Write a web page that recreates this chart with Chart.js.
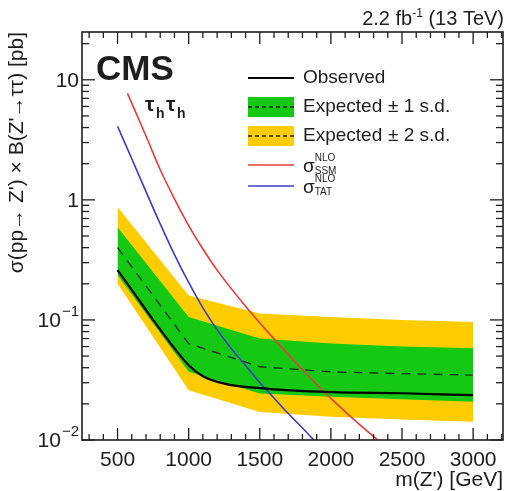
<!DOCTYPE html>
<html>
<head>
<meta charset="utf-8">
<script src="https://cdn.jsdelivr.net/npm/chart.js@4.4.1/dist/chart.umd.min.js"></script>
<style>
  html, body { margin: 0; padding: 0; background: #fff; }
  #zprime { display: block; }
</style>
</head>
<body>
<canvas id="zprime" width="507" height="491"></canvas>
<script>
///////////////////////////////// DATA : Z' -> tau tau limits

// mass points of the expected limit and its bands (GeV)
const massPoints = [500, 1000, 1500, 2000, 2500, 3000];
const expectedLimit = [0.40, 0.0635, 0.0407, 0.037, 0.0357, 0.0347];
const band1Up = [0.59, 0.106, 0.070, 0.0635, 0.060, 0.058];
const band1Down = [0.235, 0.037, 0.0244, 0.0229, 0.0218, 0.0208];
const band2Up = [0.87, 0.16, 0.113, 0.106, 0.100, 0.096];
const band2Down = [0.20, 0.026, 0.0171, 0.0156, 0.0148, 0.0142];

// observed limit
const obsMass = [500, 600, 750, 900, 1000, 1100, 1250, 1500, 2000, 2500, 3000];
const obsLimit = [0.26, 0.178, 0.10, 0.058, 0.042, 0.034, 0.0295, 0.027, 0.025, 0.0245, 0.0236];

// theory cross sections
const ssmMass = [570, 700, 800, 900, 1000, 1100, 1200, 1400, 1600, 1800, 2000, 2200, 2330];
const ssmXsec = [7.7, 3.4, 1.78, 1.02, 0.61, 0.39, 0.26, 0.13, 0.0695, 0.0385, 0.0222, 0.0135, 0.010];
const tatMass = [500, 600, 700, 800, 900, 1000, 1100, 1200, 1300, 1400, 1500, 1600, 1700, 1800, 1880];
const tatXsec = [4.1, 2.2, 1.17, 0.63, 0.35, 0.205, 0.126, 0.083, 0.0575, 0.0417, 0.030, 0.0224, 0.0166, 0.0126, 0.010];

// axes
const xTickValues = [500, 1000, 1500, 2000, 2500, 3000];
const yTickValues = [0.01, 0.1, 1, 10];
const yTickLabels = [['10', '\u22122'], ['10', '\u22121'], ['1', ''], ['10', '']];

const green = '#14c814';
const yellow = '#ffcc00';
const red = '#e63c3c';
const blue = '#3c3cc8';
const ink = '#1e1e1e';
const font = '"Liberation Sans", Arial, sans-serif';

function pts(xs, ys) {
    return xs.map((x, i) => ({ x: x, y: ys[i] }));
}

///////////////////////////////// FRAME, TICKS, LABELS, LEGEND

function seg(ctx, x1, y1, x2, y2) {
    ctx.beginPath();
    ctx.moveTo(x1, y1);
    ctx.lineTo(x2, y2);
    ctx.stroke();
}

// sigma with NLO on top and model name below
function sigmaLabel(ctx, x, y, model) {
    ctx.font = '19px ' + font;
    ctx.fillText('\u03c3', x, y + 2);
    const w = ctx.measureText('\u03c3').width;
    ctx.font = '10px ' + font;
    ctx.fillText('NLO', x + w, y - 7);
    ctx.fillText(model, x + w, y + 6);
}

const decor = {
    id: 'decor',
    afterDraw(chart) {
        const ctx = chart.ctx;
        const a = chart.chartArea;
        const xs = chart.scales.x;
        const ys = chart.scales.y;
        ctx.save();

        // frame
        ctx.strokeStyle = ink;
        ctx.lineWidth = 1.6;
        ctx.strokeRect(a.left, a.top, a.right - a.left, a.bottom - a.top);

        // inward ticks on all four sides
        ctx.lineWidth = 1.3;
        for (let m = 300; m <= xs.max; m += 100) {
            const px = xs.getPixelForValue(m);
            const len = m % 500 === 0 ? 12 : 6;
            seg(ctx, px, a.bottom, px, a.bottom - len);
            seg(ctx, px, a.top, px, a.top + len);
        }
        for (let d = -2; d <= 1; d++) {
            for (let k = 1; k <= 9; k++) {
                const v = k * Math.pow(10, d);
                if (v < ys.min || v > ys.max) continue;
                const py = ys.getPixelForValue(v);
                const len = k === 1 ? 13 : 7;
                seg(ctx, a.left, py, a.left + len, py);
                seg(ctx, a.right, py, a.right - len, py);
            }
        }

        // y tick labels 10^n
        ctx.fillStyle = ink;
        ctx.textBaseline = 'middle';
        yTickValues.forEach((v, i) => {
            const py = ys.getPixelForValue(v);
            const base = yTickLabels[i][0];
            const sup = yTickLabels[i][1];
            ctx.font = '15px ' + font;
            const sw = sup ? ctx.measureText(sup).width + 1 : 0;
            ctx.font = '21px ' + font;
            const bw = ctx.measureText(base).width;
            const x0 = a.left - 3 - sw - bw;
            ctx.fillText(base, x0, py + 1);
            if (sup) {
                ctx.font = '15px ' + font;
                ctx.fillText(sup, x0 + bw + 1, py - 8);
            }
        });

        // luminosity label
        ctx.textBaseline = 'alphabetic';
        ctx.font = '20px ' + font;
        const tail = ' (13 TeV)';
        const tailW = ctx.measureText(tail).width;
        ctx.font = '12px ' + font;
        const supW = ctx.measureText('-1').width;
        ctx.font = '20px ' + font;
        const headW = ctx.measureText('2.2 fb').width;
        let lx = 504 - tailW - supW - headW;
        ctx.fillText('2.2 fb', lx, 25);
        ctx.font = '12px ' + font;
        ctx.fillText('-1', lx + headW, 17);
        ctx.font = '20px ' + font;
        ctx.fillText(tail, lx + headW + supW, 25);

        // CMS and channel
        ctx.font = 'bold 35px ' + font;
        ctx.fillText('CMS', 96, 80);
        ctx.font = 'bold 21px ' + font;
        ctx.fillText('\u03c4', 145, 111);
        ctx.font = 'bold 14px ' + font;
        ctx.fillText('h', 156, 118);
        ctx.font = 'bold 21px ' + font;
        ctx.fillText('\u03c4', 166, 111);
        ctx.font = 'bold 14px ' + font;
        ctx.fillText('h', 177, 118);

        // legend
        const lx0 = 248, lx1 = 294, tx = 303;
        ctx.textBaseline = 'middle';
        ctx.lineWidth = 2;
        ctx.strokeStyle = '#000';
        seg(ctx, lx0, 78, lx1, 78);
        ctx.font = '19px ' + font;
        ctx.fillText('Observed', tx, 78);

        [[green, 107, '1'], [yellow, 136, '2']].forEach(([col, cy, n]) => {
            ctx.fillStyle = col;
            ctx.fillRect(lx0, cy - 10, lx1 - lx0, 20);
            ctx.strokeStyle = '#222';
            ctx.lineWidth = 1.3;
            ctx.setLineDash([4, 3]);
            seg(ctx, lx0, cy, lx1, cy);
            ctx.setLineDash([]);
            ctx.fillStyle = ink;
            ctx.font = '19px ' + font;
            ctx.fillText('Expected', tx, cy);
            ctx.fillText('\u00b1 ' + n + ' s.d.', 388, cy);
        });

        [[red, 165, 'SSM'], [blue, 186, 'TAT']].forEach(([col, cy, model]) => {
            ctx.strokeStyle = col;
            ctx.lineWidth = 1.6;
            seg(ctx, lx0, cy, lx1, cy);
            ctx.fillStyle = ink;
            sigmaLabel(ctx, tx, cy, model);
        });

        ctx.restore();
    }
};

///////////////////////////////// GRAPH

const lineBase = { fill: false, pointRadius: 0, pointHoverRadius: 0 };

new Chart(document.getElementById('zprime'), {
    type: 'line',
    data: {
        datasets: [
            Object.assign({}, lineBase, {
                label: 'Observed',
                data: pts(obsMass, obsLimit),
                borderColor: '#000',
                borderWidth: 2.2,
                cubicInterpolationMode: 'monotone'
            }),
            Object.assign({}, lineBase, {
                label: 'SSM',
                data: pts(ssmMass, ssmXsec),
                borderColor: red,
                borderWidth: 1.6,
                cubicInterpolationMode: 'monotone'
            }),
            Object.assign({}, lineBase, {
                label: 'TAT',
                data: pts(tatMass, tatXsec),
                borderColor: blue,
                borderWidth: 1.6,
                cubicInterpolationMode: 'monotone'
            }),
            Object.assign({}, lineBase, {
                label: 'Expected',
                data: pts(massPoints, expectedLimit),
                borderColor: '#1a3a1a',
                borderWidth: 1.4,
                borderDash: [9, 7]
            }),
            Object.assign({}, lineBase, {
                label: '1 s.d. up',
                data: pts(massPoints, band1Up),
                borderWidth: 0,
                borderColor: green,
                backgroundColor: green,
                fill: { target: 5 }
            }),
            Object.assign({}, lineBase, {
                label: '1 s.d. down',
                data: pts(massPoints, band1Down),
                borderWidth: 0,
                borderColor: green
            }),
            Object.assign({}, lineBase, {
                label: '2 s.d. up',
                data: pts(massPoints, band2Up),
                borderWidth: 0,
                borderColor: yellow,
                backgroundColor: yellow,
                fill: { target: 7 }
            }),
            Object.assign({}, lineBase, {
                label: '2 s.d. down',
                data: pts(massPoints, band2Down),
                borderWidth: 0,
                borderColor: yellow
            })
        ]
    },
    options: {
        responsive: false,
        animation: false,
        devicePixelRatio: 1,
        layout: { padding: { left: 0, right: 4, top: 32, bottom: 0 } },
        plugins: {
            legend: { display: false },
            tooltip: { enabled: false },
            filler: { propagate: false }
        },
        scales: {
            x: {
                type: 'linear',
                min: 250,
                max: 3210,
                offset: false,
                afterBuildTicks: s => { s.ticks = xTickValues.map(v => ({ value: v })); },
                afterFit: s => { s.height = 51; },
                grid: { display: false },
                border: { display: false },
                ticks: {
                    color: ink,
                    font: { family: font, size: 21 },
                    padding: 0,
                    maxRotation: 0,
                    autoSkip: false,
                    callback: v => String(v)
                },
                title: {
                    display: true,
                    text: "m(Z') [GeV]",
                    align: 'end',
                    color: ink,
                    font: { family: font, size: 21 },
                    padding: { top: 0, bottom: -2 }
                }
            },
            y: {
                type: 'logarithmic',
                min: 0.01,
                max: 25,
                afterFit: s => { s.width = 82; },
                grid: { display: false },
                border: { display: false },
                ticks: { display: false },
                title: {
                    display: true,
                    text: "\u03c3(pp\u2192 Z') \u00d7 B(Z'\u2192\u03c4\u03c4) [pb]",
                    align: 'end',
                    color: ink,
                    font: { family: font, size: 21 },
                    padding: { top: 5, bottom: 0 }
                }
            }
        }
    },
    plugins: [decor]
});
</script>
</body>
</html>
